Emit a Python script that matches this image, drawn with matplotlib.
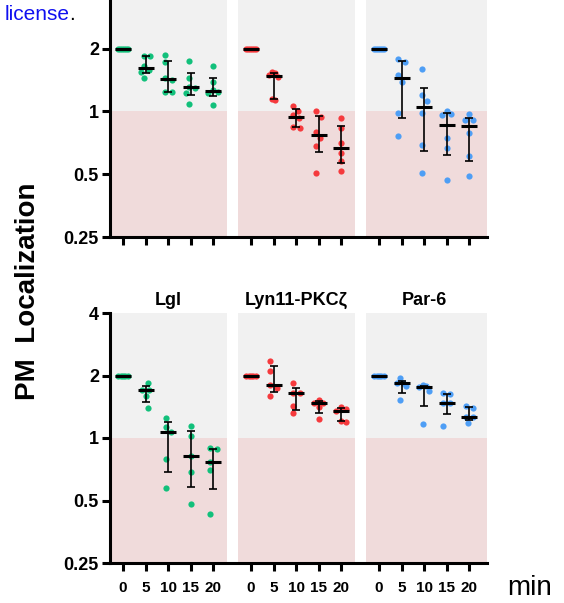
import numpy as np
import matplotlib
matplotlib.use("Agg")
import matplotlib.pyplot as plt
from matplotlib.patches import Rectangle

plt.rcParams["font.family"] = ["Liberation Sans", "DejaVu Sans"]

# ---------------------------------------------------------------- data
time_labels = ["0", "5", "10", "15", "20"]
bottom_titles = ["Lgl", "Lyn11-PKC\u03b6", "Par-6"]

# upper row (one list of replicate values per time point)
top_green = [
    [2.0, 2.0, 2.0, 2.0, 2.0, 2.0],
    [1.84, 1.85, 1.66, 1.59, 1.55, 1.44],
    [1.72, 1.86, 1.45, 1.42, 1.24, 1.24],
    [1.74, 1.45, 1.31, 1.30, 1.23, 1.09],
    [1.66, 1.38, 1.24, 1.27, 1.22, 1.08],
]
top_red = [
    [2.0, 2.0, 2.0, 2.0, 2.0, 2.0],
    [1.54, 1.53, 1.46, 1.49, 1.13, 1.15],
    [1.06, 1.01, 0.957, 0.929, 0.829, 0.841],
    [1.0, 0.939, 0.799, 0.748, 0.68, 0.508],
    [0.929, 0.829, 0.708, 0.631, 0.58, 0.517],
]
top_blue = [
    [2.0, 2.0, 2.0, 2.0, 2.0, 2.0],
    [1.795, 1.73, 1.49, 1.39, 0.989, 0.761],
    [1.607, 1.197, 1.129, 0.981, 0.689, 0.508],
    [0.967, 0.973, 1.002, 0.748, 0.67, 0.469],
    [0.915, 0.915, 0.978, 0.79, 0.61, 0.49],
]

# lower row
lgl = [
    [2.0, 2.0, 2.0, 2.0, 2.0],
    [1.84, 1.703, 1.703, 1.588, 1.39],
    [1.248, 1.134, 1.072, 0.792, 0.573],
    [1.146, 1.026, 0.816, 0.684, 0.481],
    [0.895, 0.885, 0.764, 0.704, 0.43],
]
lyn11_pkcz = [
    [2.0, 2.0, 2.0, 2.0, 2.0],
    [2.357, 2.095, 1.8, 1.735, 1.588],
    [1.834, 1.642, 1.642, 1.421, 1.315],
    [1.529, 1.474, 1.474, 1.405, 1.235],
    [1.405, 1.379, 1.354, 1.212, 1.19],
]
par6 = [
    [2.0, 2.0, 2.0, 2.0, 2.0],
    [1.939, 1.84, 1.84, 1.774, 1.529],
    [1.8, 1.775, 1.755, 1.69, 1.168],
    [1.647, 1.629, 1.474, 1.474, 1.146],
    [1.431, 1.395, 1.266, 1.258, 1.177],
]

y_ticks = [0.25, 0.5, 1, 2, 4]
y_ticklabels = ["0.25", "0.5", "1", "2", "4"]

# ---------------------------------------------------------------- style
GREEN = "#12c07b"
RED = "#f53a3d"
BLUE = "#4e9ef5"
BG_GREY = "#f1f1f1"
BG_PINK = "#f0dbdb"

STEP = 5.69          # distance between the first time point of each panel
PAD_L, PAD_R = 0.58, 4.62
XMAX = 2 * STEP + 4.8

W, H = 564, 603
fig = plt.figure(figsize=(W / 100, H / 100), dpi=100)


def swarm(ax, x, vals, spacing=7.0, max_half=4.8):
    """Horizontal offsets (data units) so that nearby dots do not overlap."""
    ys = ax.transData.transform(np.column_stack([np.full(len(vals), x), vals]))[:, 1]
    order = np.argsort(-ys)
    cands = [0.0]
    for m in range(1, 80):
        cands += [m * 0.5, -m * 0.5]
    placed, offs = [], np.zeros(len(vals))
    for i in order:
        for c in cands:
            if all((c - ox) ** 2 + (ys[i] - oy) ** 2 >= spacing ** 2 for ox, oy in placed):
                break
        offs[i] = c
        placed.append((c, ys[i]))
    offs -= (offs.max() + offs.min()) / 2
    half = np.abs(offs).max()
    if half > max_half:
        offs *= max_half / half
    ppu = ax.transData.transform((1, 1))[0] - ax.transData.transform((0, 1))[0]
    return offs / ppu


def make_row(rect, groups, colors, titles=None, xlabels=True, show_top_label=True):
    ax = fig.add_axes(rect)
    ax.set_yscale("log", base=2)
    ax.set_ylim(0.25, 4)
    ax.set_xlim(-PAD_L, XMAX)

    for k in range(3):
        x0 = k * STEP - PAD_L
        x1 = XMAX if k == 2 else k * STEP + PAD_R
        ax.add_patch(Rectangle((x0, 1), x1 - x0, 3, color=BG_GREY, lw=0, zorder=0))
        ax.add_patch(Rectangle((x0, 0.25), x1 - x0, 0.75, color=BG_PINK, lw=0, zorder=0))

    xt = []
    for k, (grp, col) in enumerate(zip(groups, colors)):
        for j, vals in enumerate(grp):
            x = k * STEP + j
            xt.append(x)
            v = np.asarray(vals, dtype=float)
            xs = x + swarm(ax, x, v)
            ax.scatter(xs, v, s=20, color=col, lw=0, zorder=2)
            med = np.percentile(v, 50, method="weibull")
            q1 = np.percentile(v, 25, method="weibull")
            q3 = np.percentile(v, 75, method="weibull")
            if q3 > q1:
                ax.errorbar([x], [med], yerr=[[med - q1], [q3 - med]], fmt="none",
                            ecolor="black", elinewidth=1.2, capsize=2.8,
                            capthick=1.2, zorder=3)
            ax.plot([x], [med], marker="_", ms=11.5, mew=2.2, color="black", zorder=4)
        if titles:
            ax.annotate(titles[k], xy=(k * STEP + 2, 1.0),
                        xycoords=ax.get_xaxis_transform(), xytext=(0, 3),
                        textcoords="offset points", ha="center", va="bottom",
                        fontsize=13, fontweight="bold")

    ax.set_xticks(xt)
    if xlabels:
        ax.set_xticklabels(time_labels * 3, fontsize=11, fontweight="bold")
    else:
        ax.set_xticklabels([])
    ax.set_yticks(y_ticks)
    labels = list(y_ticklabels)
    if not show_top_label:
        labels[-1] = ""
    ax.set_yticklabels(labels, fontsize=13, fontweight="bold")
    ax.yaxis.set_minor_locator(matplotlib.ticker.NullLocator())
    ax.tick_params(axis="both", direction="out", length=6, width=2.2, colors="black")
    ax.tick_params(axis="y", pad=2)
    ax.tick_params(axis="x", pad=7)
    for s in ("top", "right"):
        ax.spines[s].set_visible(False)
    for s in ("left", "bottom"):
        ax.spines[s].set_linewidth(2.2)
    ax.set_facecolor("none")
    return ax


left = 110 / W
width = 377 / W
make_row([left, 1 - 237 / H, width, 251 / H],
         [top_green, top_red, top_blue], [GREEN, RED, BLUE], xlabels=False,
         show_top_label=False)
make_row([left, 1 - 563 / H, width, 250 / H],
         [lgl, lyn11_pkcz, par6], [GREEN, RED, BLUE], titles=bottom_titles)

fig.text(28 / W, 1 - 291 / H, "PM  Localization", rotation=90, ha="center",
         va="center", fontsize=20, fontweight="bold")
fig.text(507 / W, 1 - 595 / H, "min", ha="left", va="baseline", fontsize=20)

lic = fig.text(5 / W, 1 - 20 / H, "license", ha="left", va="baseline",
               fontsize=15, color="#1010f0")
fig.canvas.draw()
bb = lic.get_window_extent()
fig.text((bb.x1 - 1) / W, 1 - 20 / H, ".", ha="left", va="baseline", fontsize=15,
         color="black")

fig.savefig("out.png", dpi=100)
